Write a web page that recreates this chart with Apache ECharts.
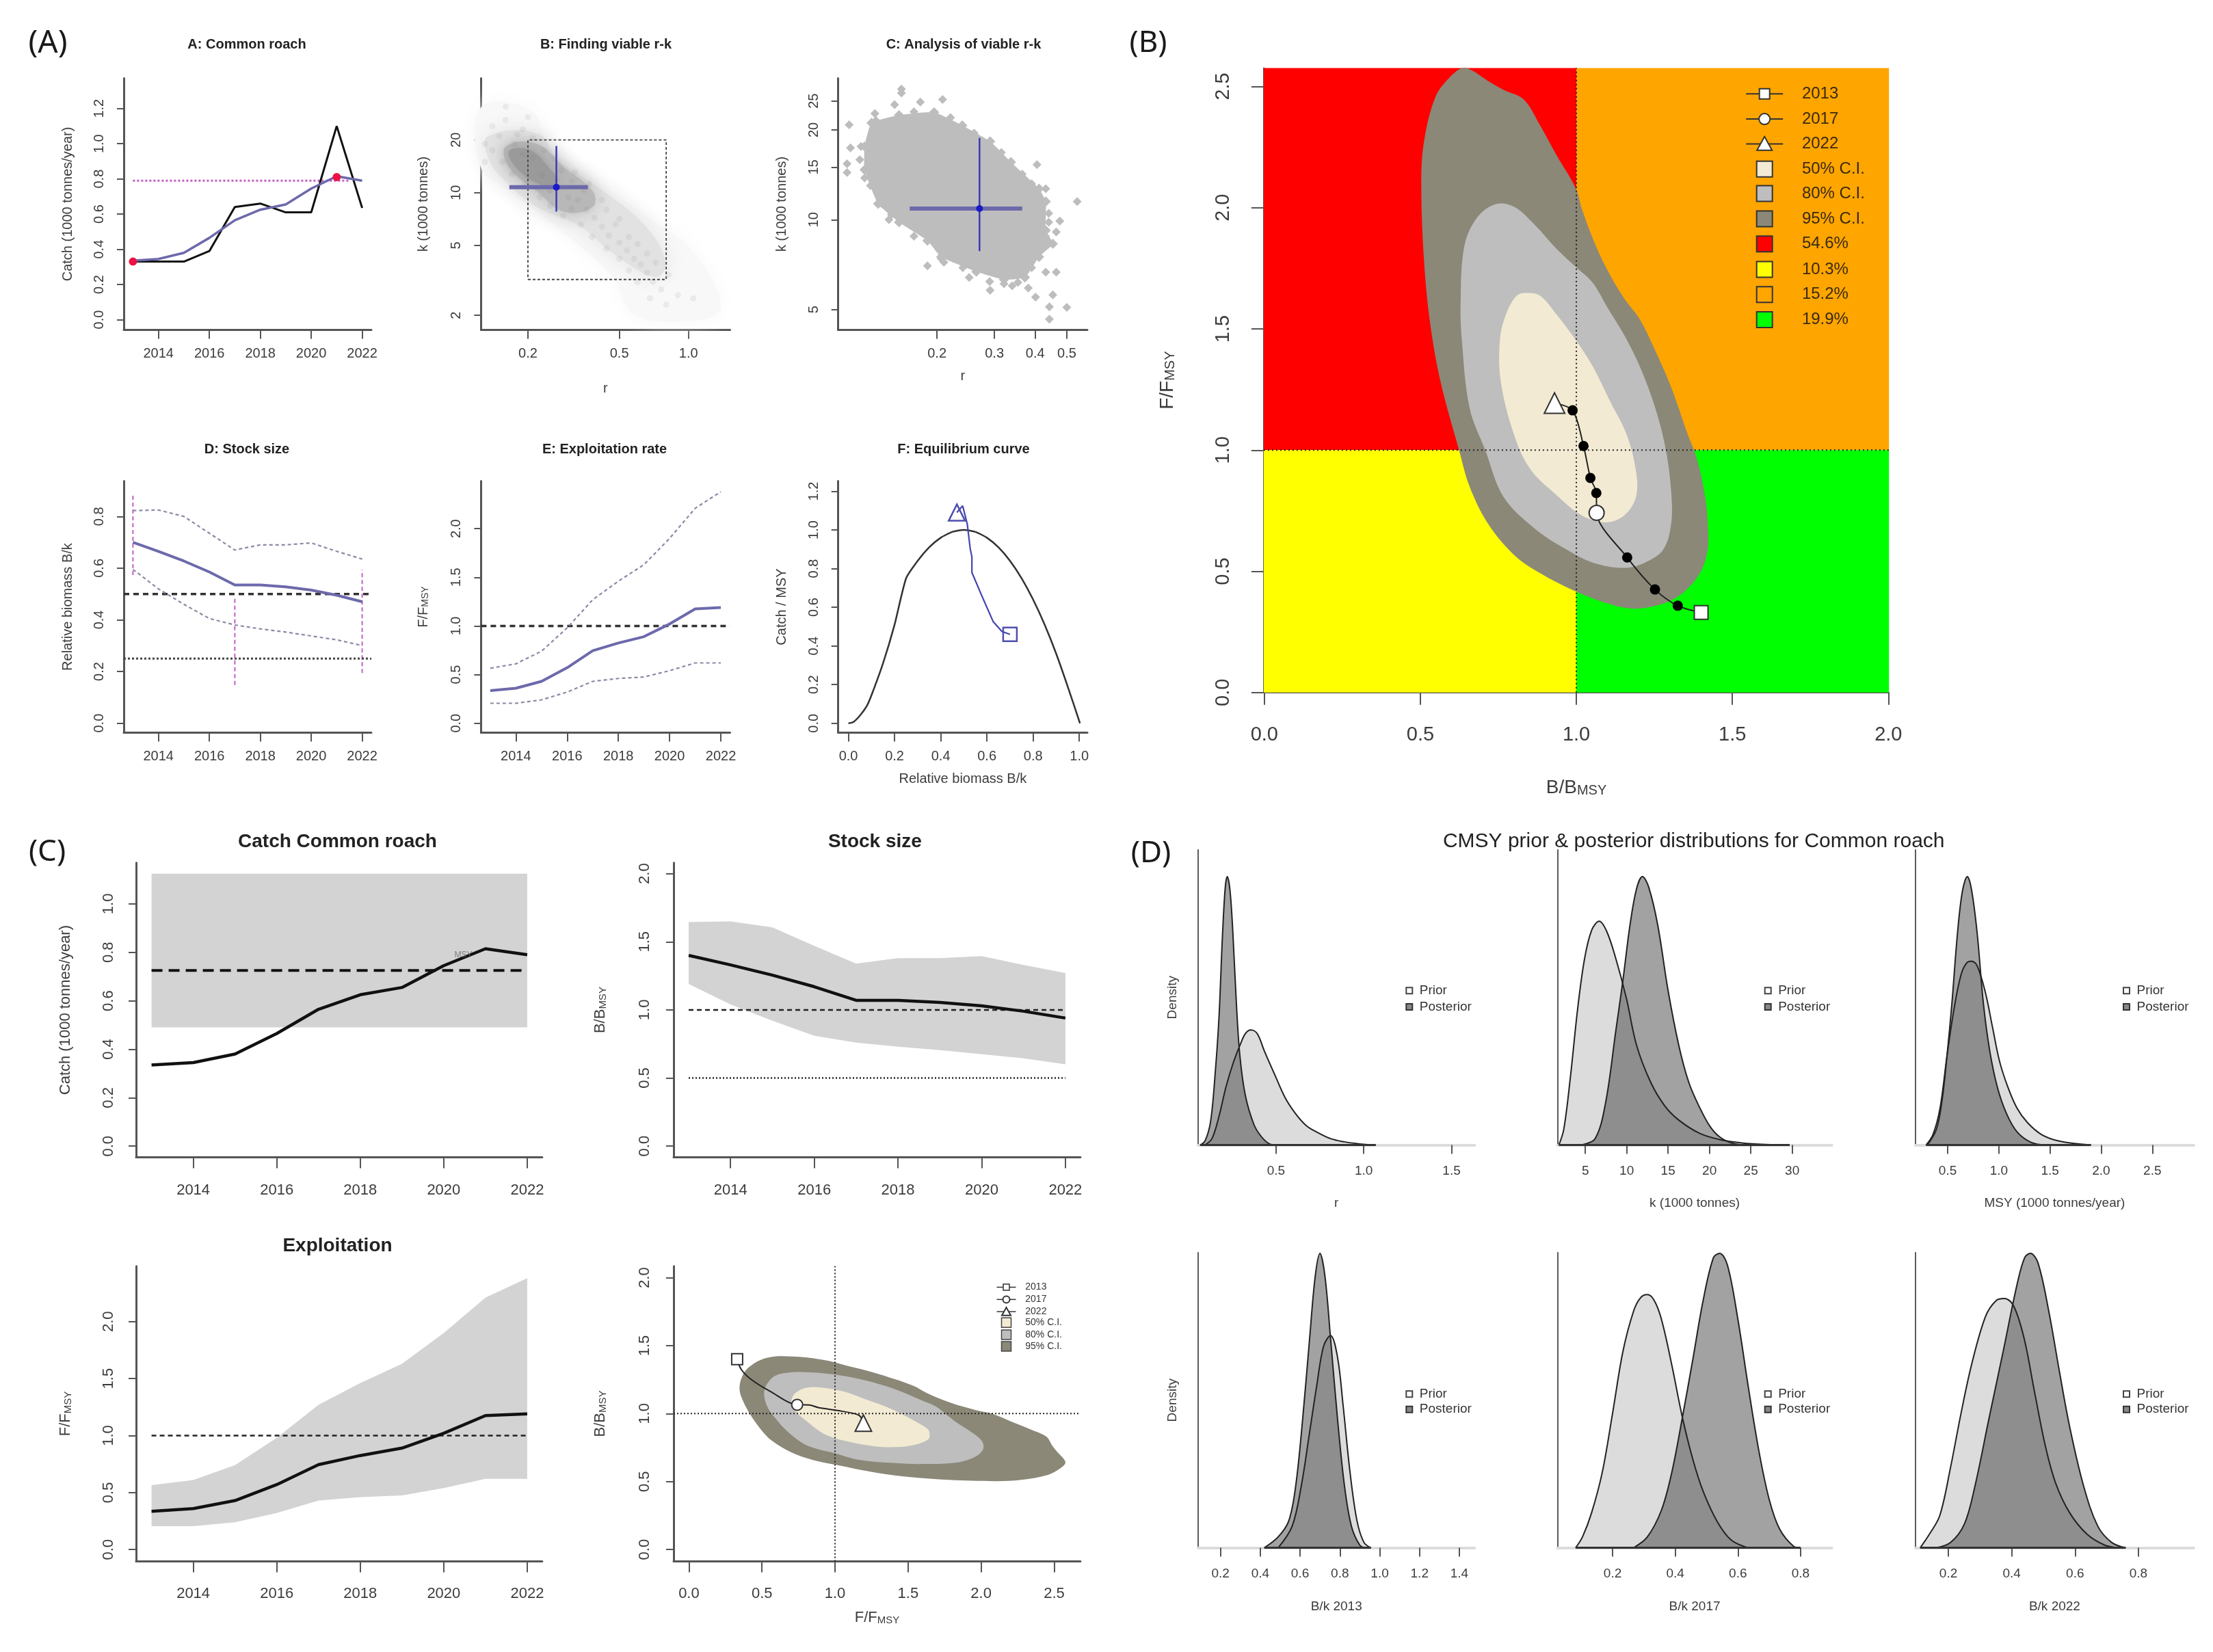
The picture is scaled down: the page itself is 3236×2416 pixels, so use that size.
<!DOCTYPE html>
<html><head><meta charset="utf-8">
<style>html,body{margin:0;padding:0;background:#fff}#c{width:3236px;height:2416px}</style>
<script src="https://cdn.jsdelivr.net/npm/echarts@6/dist/echarts.min.js"></script>
</head><body><div id="c"></div>
<script>
// ---------- data ----------
const years=[2013,2014,2015,2016,2017,2018,2019,2020,2021,2022];
const yearTicks=[2014,2016,2018,2020,2022];
const rawCatch=[.33,.33,.33,.39,.64,.66,.61,.61,1.10,.635];
const smoothCatch=[.335,.345,.38,.465,.565,.625,.655,.745,.815,.79];
const msyLevel=.725, catchPink=.79;
const catchLow=.49, catchHigh=1.125;
const bkMid=[.70,.665,.6275,.585,.535,.535,.5275,.515,.495,.47];
const bkUp=[.8225,.825,.80,.735,.67,.69,.69,.6975,.665,.635];
const bkLo=[.595,.52,.46,.405,.38,.365,.3525,.3375,.3225,.30];
const bbmsyMid=[1.40,1.33,1.255,1.17,1.07,1.07,1.055,1.03,.99,.94];
const bbmsyUp=[1.645,1.65,1.605,1.47,1.34,1.38,1.38,1.395,1.33,1.27];
const bbmsyLo=[1.19,1.04,.92,.81,.76,.73,.705,.675,.645,.60];
const ffmsyMid=[.335,.36,.43,.57,.745,.825,.89,1.02,1.175,1.19];
const ffmsyUp=[.565,.61,.74,.98,1.27,1.46,1.63,1.9,2.21,2.38];
const ffmsyLo=[.205,.205,.24,.32,.43,.46,.475,.54,.62,.62];
const eqX=[0,.02,.05,.08,.1,.15,.2,.25,.3,.35,.4,.45,.5,.55,.6,.65,.7,.75,.8,.85,.9,.95,1.003];
const eqY=[0,.005,.04,.09,.145,.31,.51,.75,.84,.91,.96,.99,1,.99,.96,.91,.84,.75,.64,.51,.36,.19,0];
const eqPathY=[.46,.475,.525,.64,.78,.86,.905,1.03,1.125,1.09];
const pinkVert=[[2013,.573,.888],[2017,.148,.487],[2022,.194,.593]];
const redPts=[[2013,.33],[2021,.81]];
// viable r-k
const boxR=[.2,.8], boxK=[3.2,20];
const crossB={r:.266,k:10.75,rLo:.166,rHi:.365,kLo:7.8,kHi:18.5};
const crossC={r:.27,k:10.9,rLo:.165,rHi:.365,kLo:7.85,kHi:18.8};
const cloudOuter=[[.125,30.7],[.204,29.7],[.252,18.3],[.383,12.1],[.669,7.25],[1.017,4.8],[1.39,2.25],[1.09,1.87],[.58,2.03],[.47,3.29],[.252,6.77],[.166,10.2],[.125,13.9]];
const cloudMid=[[.134,21],[.219,21.8],[.27,15.5],[.41,10.6],[.646,6.5],[.796,4.0],[.717,3.3],[.472,4.5],[.333,6.5],[.219,8.3],[.155,12.1],[.134,16]];
const cloudCore=[[.16,18.3],[.219,19],[.289,13.9],[.383,10.2],[.383,8.3],[.289,7.77],[.219,10.2],[.166,13.9]];
const cloudInner=[[.165,17.2],[.205,17.5],[.25,13.6],[.27,11.6],[.235,11],[.185,13.2]];
const cloudGrain=[[.14,24],[.16,26],[.19,23],[.15,21],[.18,21.5],[.21,20.5],[.14,17.5],[.155,15],[.17,12.8],[.195,11.2],[.225,9.4],[.25,8.4],[.285,7.4],[.31,8.1],[.33,9.1],[.35,10.3],[.31,11.6],[.28,13.4],[.26,15.8],[.235,17.4],[.21,15.8],[.19,16.6],[.175,19],[.23,12.6],[.25,10.3],[.3,9.4],[.36,8],[.39,7.2],[.42,6.4],[.45,5.7],[.5,5.2],[.54,4.7],[.58,4.2],[.62,3.9],[.66,3.5],[.7,3.1],[.76,2.8],[.48,6.6],[.55,5.6],[.6,5.1],[.66,4.5],[.72,4],[.82,3.4],[.38,5.6],[.44,4.8],[.5,4.2],[.55,3.6],[.6,3.1],[.34,6.6],[.44,8],[.5,7.1],[.42,9.1],[.9,2.6],[.8,2.3],[.68,2.5],[1.05,2.5],[.16,31],[.2,27],[.13,19],[.13,15],[.32,13.1],[.37,11.2]];
const viableHull=[[.126,21.1],[.153,22.4],[.196,22.9],[.239,20.7],[.291,18.3],[.337,15.6],[.411,12.7],[.431,11.5],[.431,9.2],[.453,8.3],[.411,7.5],[.372,6.4],[.321,6.3],[.264,6.7],[.206,7.5],[.187,8.5],[.153,9.8],[.132,11.3],[.12,14.7],[.12,17.6]];
const viableEdge=[[.1556,27.4],[.1556,26.6],[.1778,24.8],[.208,25.3],[.1482,24.3],[.129,22.7],[.1076,20.8],[.1086,17.4],[.117,17.6],[.106,15.4],[.106,14.4],[.12,13.8],[.132,12.5],[.1356,11.3],[.1425,10],[.187,7],[.206,7.4],[.251,6.4],[.291,5.8],[.321,6.1],[.354,6.16],[.381,5.9],[.401,5.5],[.453,5.6],[.442,5.1],[.5,5.08],[.442,4.64],[.464,6.67],[.431,6.67],[.464,9.1],[.476,9.9],[.538,11.5],[.405,15.3],[.431,12.7],[.354,7.2],[.14,20],[.135,19],[.125,18.5],[.128,16.5],[.116,15.9],[.13,21.5],[.17,23],[.22,22],[.26,19.5],[.315,16.8],[.365,14.2],[.39,13.2],[.44,10.5],[.44,9.8],[.43,8.8],[.39,6.9],[.34,6],[.29,6.2],[.24,6.9],[.21,7.2],[.17,8.8],[.145,10.4],[.125,13]];
// kobe plot (B/Bmsy, F/Fmsy)
const kobe95=[[.636,2.577],[.666,2.566],[.716,2.523],[.767,2.486],[.831,2.447],[.884,2.339],[.935,2.22],[.998,2.08],[1.018,1.994],[1.052,1.875],[1.094,1.756],[1.153,1.626],[1.203,1.54],[1.253,1.41],[1.304,1.259],[1.354,1.076],[1.388,.957],[1.413,.806],[1.421,.698],[1.421,.59],[1.396,.492],[1.337,.406],[1.27,.363],[1.186,.346],[1.111,.363],[.998,.417],[.884,.492],[.8,.568],[.716,.698],[.658,.849],[.624,1],[.565,1.281],[.532,1.518],[.512,1.778],[.503,2.102],[.512,2.274],[.549,2.458],[.599,2.544]];
const kobe80=[[.742,2.015],[.8,2.004],[.867,1.929],[.935,1.832],[.998,1.756],[1.052,1.691],[1.102,1.583],[1.153,1.475],[1.203,1.346],[1.253,1.173],[1.287,1],[1.304,.827],[1.304,.698],[1.279,.59],[1.22,.536],[1.153,.514],[1.052,.536],[.968,.59],[.867,.676],[.767,.806],[.708,1],[.658,1.173],[.633,1.454],[.629,1.605],[.641,1.842],[.683,1.961]];
const kobe50=[[.842,1.648],[.884,1.637],[.935,1.562],[.998,1.454],[1.052,1.346],[1.111,1.194],[1.161,1.065],[1.191,.914],[1.191,.806],[1.153,.73],[1.094,.702],[1.018,.73],[.935,.816],[.851,.924],[.8,1.065],[.758,1.281],[.755,1.454],[.775,1.562],[.809,1.637]];
const kobePath=[[1.40,.33],[1.325,.358],[1.252,.425],[1.163,.557],[1.065,.741],[1.064,.823],[1.045,.885],[1.023,1.017],[.988,1.164],[.93,1.194]];
const kobeDots=[1,2,3,5,6,7,8];
const kobeLabels=['2013','2017','2022','50% C.I.','80% C.I.','95% C.I.','54.6%','10.3%','15.2%','19.9%'];
const ciCols=['#f2ead2','#bebebe','#8b8878'];
const quadCols=['#ff0000','#ffff00','#ffa500','#00ff00'];
// prior / posterior densities (x, relative height)
const priorR=[[.095,0],[.135,.024],[.175,.107],[.214,.215],[.254,.302],[.294,.371],[.325,.415],[.357,.429],[.393,.415],[.433,.351],[.492,.263],[.552,.176],[.611,.117],[.671,.073],[.73,.049],[.81,.024],[.889,.012],[.968,.005],[1.068,0]];
const postR=[[.067,0],[.095,.015],[.127,.088],[.155,.283],[.175,.478],[.194,.771],[.21,.956],[.222,1],[.238,.946],[.254,.79],[.274,.527],[.294,.332],[.325,.185],[.373,.078],[.413,.034],[.46,.005],[.5,0]];
const priorK=[[1.8,0],[2.4,.059],[3.2,.254],[4.07,.507],[4.9,.693],[5.76,.8],[6.68,.834],[7.6,.795],[8.7,.693],[9.97,.546],[11.2,.371],[12.9,.234],[14.6,.146],[16.3,.093],[18.8,.044],[21.3,.02],[23.9,.008],[26.8,.002],[29.7,0]];
const postK=[[4.5,0],[6.18,.024],[7.44,.156],[8.7,.429],[9.55,.615],[10.4,.82],[11.2,.956],[11.9,1],[12.66,.961],[13.75,.82],[15,.576],[16.3,.371],[17.5,.234],[18.8,.141],[20.1,.068],[21.3,.029],[23,.005],[25.1,0]];
const priorM=[[.288,0],[.356,.039],[.425,.137],[.493,.332],[.562,.507],[.63,.634],[.685,.678],[.733,.685],[.788,.668],[.87,.566],[.938,.439],[1.007,.312],[1.089,.215],[1.178,.137],[1.281,.083],[1.418,.039],[1.589,.015],[1.9,0]];
const postM=[[.301,0],[.39,.059],[.445,.166],[.493,.332],[.541,.527],[.596,.79],[.644,.946],[.692,1],[.733,.951],[.788,.79],[.849,.527],[.911,.351],[.986,.215],[1.075,.117],[1.178,.049],[1.315,.01],[1.452,0]];
const priorB13=[[.49,0],[.56,.073],[.606,.21],[.648,.393],[.683,.548],[.718,.685],[.753,.721],[.788,.648],[.816,.484],[.851,.256],[.886,.091],[.921,.018],[.956,0]];
const postB13=[[.42,0],[.49,.037],[.543,.091],[.578,.21],[.613,.438],[.648,.712],[.676,.922],[.7,1],[.725,.922],[.753,.712],[.788,.438],[.823,.21],[.858,.073],[.9,.009],[.928,0]];
const priorB17=[[.082,0],[.104,.037],[.133,.119],[.167,.256],[.2,.457],[.233,.667],[.267,.804],[.289,.849],[.311,.86],[.333,.84],[.356,.776],[.389,.621],[.422,.447],[.456,.301],[.489,.192],[.533,.091],[.578,.027],[.633,0]];
const postB17=[[.267,0],[.311,.037],[.356,.128],[.389,.256],[.422,.438],[.456,.639],[.489,.84],[.522,.986],[.542,1],[.567,.959],[.6,.776],[.633,.548],[.667,.329],[.7,.164],[.733,.064],[.778,.005],[.8,0]];
const priorB22=[[.111,0],[.14,.046],[.173,.11],[.207,.274],[.24,.457],[.273,.621],[.317,.785],[.351,.84],[.377,.847],[.406,.822],[.439,.712],[.472,.53],[.506,.347],[.539,.219],[.583,.119],[.638,.046],[.694,.009],[.738,0]];
const postB22=[[.162,0],[.207,.018],[.251,.082],[.284,.21],[.328,.438],[.373,.667],[.417,.895],[.441,.986],[.459,1],[.483,.968],[.517,.804],[.55,.603],[.583,.411],[.627,.21],[.672,.073],[.716,.018],[.76,0]];

// ---------- helpers ----------
const SANS='"Liberation Sans",Arial,sans-serif';
const AX='#555', TXT='#3c3c3c', BLUE='#6c69ab', PINK='#c45fc4', CI='#8a8aa6';
const grids=[],xAxes=[],yAxes=[],series=[],titles=[],gfx=[];
function fix(n){return v=>Number(v).toFixed(n)}
function plain(v){return String(v)}
function panel(o){
  const i=grids.length, fs=o.fs||20, lw=o.lw||3;
  grids.push({left:o.l,top:o.t,width:o.r-o.l,height:o.b-o.t,containLabel:false});
  const sub={s:{fontSize:Math.round(fs*.68),fontFamily:SANS,color:TXT,verticalAlign:'bottom',padding:[fs*.3,0,0,0]}};
  xAxes.push({gridIndex:i,type:o.xType||'value',logBase:10,min:o.x[0],max:o.x[1],
    name:o.xName||'',nameLocation:'middle',nameGap:o.xGap||76,
    nameTextStyle:{fontSize:o.nameFs||fs,fontFamily:SANS,color:TXT,rich:sub},
    axisLine:{show:true,onZero:false,lineStyle:{color:o.xLine||AX,width:o.xLw||lw}},
    axisTick:{show:true,inside:false,length:o.xTl||13,customValues:o.xt,lineStyle:{color:AX,width:2}},
    axisLabel:{show:true,customValues:o.xt,formatter:o.xf||plain,margin:o.xm||25,fontSize:fs,fontFamily:SANS,color:TXT,hideOverlap:false,showMinLabel:true,showMaxLabel:true},
    splitLine:{show:false},minorTick:{show:false}});
  yAxes.push({gridIndex:i,type:o.yType||'value',logBase:10,min:o.y[0],max:o.y[1],
    name:o.yName||'',nameLocation:'middle',nameGap:o.yGap||75,nameRotate:90,
    nameTextStyle:{fontSize:o.nameFs||fs,fontFamily:SANS,color:TXT,rich:sub},
    axisLine:{show:true,onZero:false,lineStyle:{color:o.yLine||AX,width:lw}},
    axisTick:{show:!!o.yt,inside:false,length:o.yTl||10,customValues:o.yt||[],lineStyle:{color:AX,width:2}},
    axisLabel:{show:!!o.yt,customValues:o.yt||[],rotate:90,formatter:o.yf||plain,margin:o.ym||26,fontSize:fs,fontFamily:SANS,color:TXT,hideOverlap:false,showMinLabel:true,showMaxLabel:true},
    splitLine:{show:false},minorTick:{show:false}});
  return i;
}
function poly(g,pts,fill,opt){
  opt=opt||{};
  series.push({type:'custom',coordinateSystem:'cartesian2d',xAxisIndex:g,yAxisIndex:g,silent:true,clip:!!opt.clip,
    data:pts,encode:{x:0,y:1},z:opt.z||2,
    renderItem:(p,api)=>{
      if(p.dataIndex!==0)return null;
      const s=pts.map(q=>api.coord(q));
      return {type:'polygon',shape:{points:s,smooth:opt.smooth||0},style:{fill:fill,opacity:opt.op==null?1:opt.op,shadowBlur:opt.blur||0,shadowColor:opt.blur?fill:'transparent'}};
    }});
}
function line(g,pts,col,w,type,opt){
  opt=opt||{};
  series.push({type:'line',xAxisIndex:g,yAxisIndex:g,data:pts,symbol:'none',silent:true,smooth:opt.smooth||false,clip:false,z:opt.z||3,
    lineStyle:{color:col,width:w,type:type||'solid'}});
}
function mark(g,pts,sym,size,fill,stroke,bw,z,opacity){
  series.push({type:'scatter',xAxisIndex:g,yAxisIndex:g,data:pts,symbol:sym,symbolSize:size,silent:true,clip:false,z:z||5,
    itemStyle:{color:fill,borderColor:stroke,borderWidth:bw||0,opacity:opacity==null?1:opacity}});
}
function zipY(y){return years.map((t,i)=>[t,y[i]])}
function band(hi,lo){return years.map((t,i)=>[t,hi[i]]).concat(years.map((t,i)=>[t,lo[i]]).reverse())}
function title(text,x,y,fs,bold,fam,col){
  titles.push({text:text,left:x,top:y,padding:0,textAlign:'center',textVerticalAlign:'middle',
    textStyle:{fontSize:fs,fontWeight:bold?'bold':'normal',fontFamily:fam||SANS,color:col||'#222'}});
}
function gText(text,x,y,fs,col){gfx.push({type:'text',x:x,y:y,silent:true,z:50,style:{text:text,fontSize:fs,fontFamily:SANS,fill:col||'#333',align:'left',verticalAlign:'middle'}})}
function gRect(cx,cy,s,fill,st,lw){gfx.push({type:'rect',silent:true,z:50,shape:{x:cx-s/2,y:cy-s/2,width:s,height:s},style:{fill:fill,stroke:st||'#333',lineWidth:lw||2}})}
function gCirc(cx,cy,r){gfx.push({type:'circle',silent:true,z:50,shape:{cx:cx,cy:cy,r:r},style:{fill:'#fff',stroke:'#333',lineWidth:2}})}
function gTri(cx,cy,s){gfx.push({type:'polygon',silent:true,z:50,shape:{points:[[cx-s/2,cy+s*.42],[cx+s/2,cy+s*.42],[cx,cy-s*.48]]},style:{fill:'#fff',stroke:'#333',lineWidth:2}})}
function gLine(cx,cy,h,w){gfx.push({type:'line',silent:true,z:49,shape:{x1:cx-h,y1:cy,x2:cx+h,y2:cy},style:{stroke:'#333',lineWidth:w||2}})}
const triSym='triangle';

// ---------- (A) six CMSY panels ----------
const yr=[2012.64,2022.36];
title('(A)',70,64,46,false,'"Noto Sans"','#1a1a1a');
title('A: Common roach',361,65.7,20,true);
title('B: Finding viable r-k',886,65.7,20,true);
title('C: Analysis of viable r-k',1409,65.7,20,true);
title('D: Stock size',361,657.7,20,true);
title('E: Exploitation rate',884,657.7,20,true);
title('F: Equilibrium curve',1409,657.7,20,true);

let g=panel({l:181,r:543,t:114.4,b:482.5,x:yr,y:[-.058,1.372],xt:yearTicks,yt:[0,.2,.4,.6,.8,1,1.2],yf:fix(1),yName:'Catch (1000 tonnes/year)',yGap:72,ym:26});
line(g,[[2013,catchPink],[2021.5,catchPink]],PINK,3,'dotted');
line(g,zipY(rawCatch),'#111',3);
line(g,zipY(smoothCatch),BLUE,3.5,'solid',{z:4});
mark(g,redPts,'circle',12,'#ee1144');

g=panel({l:703.4,r:1067.5,t:114.4,b:482.5,xType:'log',yType:'log',x:[.125,1.517],y:[1.65,45],xt:[.2,.5,1],yt:[2,5,10,20],xf:fix(1),xName:'r',yName:'k (1000 tonnes)',yGap:74,ym:26,xGap:76});
poly(g,cloudOuter,'#f8f8f8',{smooth:.4,blur:30});
poly(g,cloudMid,'#e2e2e2',{smooth:.4,blur:30});
poly(g,cloudCore,'#b8b8b8',{smooth:.4,blur:24});
poly(g,cloudInner,'#9a9a9a',{smooth:.4,blur:18});
mark(g,cloudGrain,'circle',9,'#777',null,0,2,.1);
line(g,[[boxR[0],boxK[0]],[boxR[1],boxK[0]],[boxR[1],boxK[1]],[boxR[0],boxK[1]],[boxR[0],boxK[0]]],'#444',1.8,[4,3]);
line(g,[[crossB.rLo,crossB.k],[crossB.rHi,crossB.k]],BLUE,6);
line(g,[[crossB.r,crossB.kLo],[crossB.r,crossB.kHi]],'#3a3ab8',2.5);
mark(g,[[crossB.r,crossB.k]],'circle',10,'#1a1ac8');

g=panel({l:1225.7,r:1590,t:114.4,b:482.5,xType:'log',yType:'log',x:[.0996,.578],y:[4.27,29.8],xt:[.2,.3,.4,.5],yt:[5,10,15,20,25],xf:fix(1),xName:'r',yName:'k (1000 tonnes)',yGap:72,ym:25,xGap:58});
poly(g,viableHull,'#bdbdbd',{smooth:.15});
mark(g,viableHull,'diamond',15,'#bdbdbd');
mark(g,viableEdge,'diamond',13,'#bdbdbd');
line(g,[[crossC.rLo,crossC.k],[crossC.rHi,crossC.k]],BLUE,6);
line(g,[[crossC.r,crossC.kLo],[crossC.r,crossC.kHi]],'#3a3ab8',2.5);
mark(g,[[crossC.r,crossC.k]],'circle',10,'#1a1ac8');

g=panel({l:181,r:543,t:703.5,b:1071.6,x:yr,y:[-.037,.937],xt:yearTicks,yt:[0,.2,.4,.6,.8],yf:fix(1),yName:'Relative biomass B/k',yGap:72,ym:26});
pinkVert.forEach(v=>line(g,[[v[0],v[1]],[v[0],v[2]]],PINK,2,[6,4]));
line(g,[[2012.64,.5],[2022.36,.5]],'#333',3.5,[8,6]);
line(g,[[2012.64,.25],[2022.36,.25]],'#444',3,'dotted');
line(g,zipY(bkUp),CI,2.2,[5,4]);
line(g,zipY(bkLo),CI,2.2,[5,4]);
line(g,zipY(bkMid),BLUE,4);

g=panel({l:703.4,r:1067.5,t:703.5,b:1071.6,x:yr,y:[-.098,2.49],xt:yearTicks,yt:[0,.5,1,1.5,2],yf:fix(1),yName:'F/F{s|MSY}',yGap:74,ym:26});
line(g,[[2012.64,1],[2022.36,1]],'#333',3.5,[8,6]);
line(g,zipY(ffmsyUp),CI,2.2,[5,4]);
line(g,zipY(ffmsyLo),CI,2.2,[5,4]);
line(g,zipY(ffmsyMid),BLUE,4);

g=panel({l:1225.7,r:1590,t:703.5,b:1071.6,x:[-.044,1.035],y:[-.049,1.253],xt:[0,.2,.4,.6,.8,1],yt:[0,.2,.4,.6,.8,1,1.2],xf:fix(1),yf:fix(1),xName:'Relative biomass B/k',yName:'Catch / MSY',yGap:72,ym:25,xGap:58});
line(g,eqX.map((x,i)=>[x,eqY[i]]),'#333',2.5,'solid',{smooth:.2});
line(g,bkMid.map((x,i)=>[x,eqPathY[i]]),'#4444b0',2.2);
mark(g,[[bkMid[0],eqPathY[0]]],'rect',20,'rgba(0,0,0,0)','#4f4fb0',2.5);
mark(g,[[bkMid[9],eqPathY[9]]],triSym,24,'rgba(0,0,0,0)','#4f4fb0',2.5);

// ---------- (B) Kobe plot ----------
title('(B)',1679,63,44,false,'"Noto Sans"','#1a1a1a');
g=panel({l:1847.9,r:2762.2,t:99.5,b:1012.8,x:[-.002,2.002],y:[0,2.576],xt:[0,.5,1,1.5,2],yt:[0,.5,1,1.5,2,2.5],xf:fix(1),yf:fix(1),fs:29,nameFs:28,xName:'B/B{s|MSY}',yName:'F/F{s|MSY}',xGap:125,yGap:126,xm:48,ym:44,xTl:18,yTl:18,lw:2});
const xL=-.002,xR=2.002,yT=2.576;
poly(g,[[xL,1],[1,1],[1,yT],[xL,yT]],quadCols[0],{z:1});
poly(g,[[xL,0],[1,0],[1,1],[xL,1]],quadCols[1],{z:1});
poly(g,[[1,1],[xR,1],[xR,yT],[1,yT]],quadCols[2],{z:1});
poly(g,[[1,0],[xR,0],[xR,1],[1,1]],quadCols[3],{z:1});
poly(g,kobe95,ciCols[2],{smooth:.35});
poly(g,kobe80,ciCols[1],{smooth:.35});
poly(g,kobe50,ciCols[0],{smooth:.35});
line(g,[[xL,1],[xR,1]],'#222',2,[2,4]);
line(g,[[1,0],[1,yT]],'#222',2,[2,4]);
line(g,kobePath,'#222',2,'solid',{smooth:.3,z:4});
mark(g,kobeDots.map(i=>kobePath[i]),'circle',15,'#000');
mark(g,[kobePath[0]],'rect',20,'#fff','#333',2,6);
mark(g,[kobePath[4]],'circle',22,'#fff','#333',2,6);
mark(g,[kobePath[9]],triSym,30,'#fff','#333',2,6);
// legend
(function(){
  const xs=2580.2,xt=2634.9,ys=[137.3,174.1,210.4,247.2,283.1,319.9,356.7,394,430.8,467.6];
  const fills=[null,null,null].concat(ciCols,quadCols);
  kobeLabels.forEach((t,i)=>{
    gText(t,xt,ys[i],24,'#3a2a10');
    if(i<3)gLine(xs,ys[i],27);
    if(i===0)gRect(xs,ys[i],15,'#fff');
    else if(i===1)gCirc(xs,ys[i],8);
    else if(i===2)gTri(xs,ys[i],22);
    else gRect(xs,ys[i],23,fills[i],'#333',2);
  });
})();

// ---------- (C) four panels ----------
title('(C)',69,1246,44,false,'"Noto Sans"','#1a1a1a');
title('Catch Common roach',493.5,1230.8,28,true);
title('Stock size',1279.4,1230.8,28,true);
title('Exploitation',493.5,1821.8,28,true);
const pc={fs:22,xTl:16,yTl:11,xm:37};
g=panel(Object.assign({},pc,{l:199,r:792.9,t:1261.7,b:1692.5,x:[2012.63,2022.36],y:[-.046,1.17],xt:yearTicks,yt:[0,.2,.4,.6,.8,1],yf:fix(1),yName:'Catch (1000 tonnes/year)',yGap:92,ym:29}));
poly(g,band(years.map(()=>catchHigh),years.map(()=>catchLow)),'#d3d3d3');
line(g,[[2013,msyLevel],[2022,msyLevel]],'#111',4,[16,9]);
line(g,zipY(smoothCatch),'#111',4.5);
series.push({type:'scatter',xAxisIndex:g,yAxisIndex:g,data:[[2020.47,.79]],symbol:'circle',symbolSize:2,silent:true,z:6,
  itemStyle:{color:'rgba(0,0,0,0)'},
  label:{show:true,formatter:'MSY',fontSize:12,color:'#666',fontFamily:SANS,position:'inside'}});

g=panel(Object.assign({},pc,{l:985,r:1579.9,t:1261.7,b:1692.5,x:[2012.64,2022.36],y:[-.082,2.08],xt:yearTicks,yt:[0,.5,1,1.5,2],yf:fix(1),yName:'B/B{s|MSY}',yGap:96,ym:31}));
poly(g,band(bbmsyUp,bbmsyLo),'#d3d3d3');
line(g,[[2013,1],[2022,1]],'#222',2.5,[7,5]);
line(g,[[2013,.5],[2022,.5]],'#222',2.5,[2,3]);
line(g,zipY(bbmsyMid),'#111',4.5);

g=panel(Object.assign({},pc,{l:199,r:792.9,t:1851.7,b:2283.4,x:[2012.63,2022.36],y:[-.103,2.486],xt:yearTicks,yt:[0,.5,1,1.5,2],yf:fix(1),yName:'F/F{s|MSY}',yGap:92,ym:29}));
poly(g,band(ffmsyUp,ffmsyLo),'#d3d3d3');
line(g,[[2013,1],[2022,1]],'#222',2.5,[7,5]);
line(g,zipY(ffmsyMid),'#111',4.5);

const swap=a=>a.map(p=>[p[1],p[0]]);
g=panel(Object.assign({},pc,{l:985,r:1579.9,t:1851.7,b:2283.4,x:[-.105,2.68],y:[-.087,2.085],xt:[0,.5,1,1.5,2,2.5],yt:[0,.5,1,1.5,2],xf:fix(1),yf:fix(1),xName:'F/F{s|MSY}',xGap:72,yName:'B/B{s|MSY}',yGap:96,ym:31}));
poly(g,swap(kobe95),ciCols[2],{smooth:.35});
poly(g,swap(kobe80),ciCols[1],{smooth:.35});
poly(g,swap(kobe50),ciCols[0],{smooth:.35});
line(g,[[1,-.087],[1,2.085]],'#222',2,[2,3]);
line(g,[[-.105,1],[2.68,1]],'#222',2,[2,3]);
line(g,swap(kobePath),'#222',2,'solid',{smooth:.3,z:4});
mark(g,[swap(kobePath)[0]],'rect',16,'#fff','#333',2,6);
mark(g,[swap(kobePath)[4]],'circle',16,'#fff','#333',2,6);
mark(g,[swap(kobePath)[9]],triSym,24,'#fff','#333',2,6);
(function(){
  const xs=1471.5,xt=1499.3,ys=[1882.5,1900.4,1918.3,1934.2,1952.1,1969.1];
  kobeLabels.slice(0,6).forEach((t,i)=>{
    gText(t,xt,ys[i],14,'#333');
    if(i<3)gLine(xs,ys[i],14,1.5);
    if(i===0)gRect(xs,ys[i],9,'#fff','#333',1.5);
    else if(i===1)gCirc(xs,ys[i],5);
    else if(i===2)gTri(xs,ys[i],13);
    else gRect(xs,ys[i],14,ciCols[i-3],'#444',1.5);
  });
})();

// ---------- (D) prior / posterior densities ----------
title('(D)',1683,1248,44,false,'"Noto Sans"','#1a1a1a');
title('CMSY prior & posterior distributions for Common roach',2476.7,1230.8,30,false,SANS,'#222');
const pd={fs:19,xm:29,xTl:13,yGap:28,xLine:'#dcdcdc',xLw:4,lw:1.6,yLine:'#333'};
function density(o,prior,post,legY){
  const g=panel(Object.assign({},pd,o));
  [[prior,'#dcdcdc'],[post,'rgba(40,40,40,.43)']].forEach(a=>{
    series.push({type:'line',xAxisIndex:g,yAxisIndex:g,data:a[0],symbol:'none',smooth:.35,silent:true,clip:false,z:3,
      lineStyle:{color:'#222',width:2},areaStyle:{color:a[1],opacity:1,origin:'start'}});
    line(g,[a[0][0],a[0][a[0].length-1]],'#333',3,'solid',{z:4});
  });
  const xs=o.legX;
  gRect(xs,legY[0],9,'#fff','#444',2);
  gRect(xs,legY[1],9,'#888','#333',2);
  gText('Prior',xs+15,legY[0],19,'#333');
  gText('Posterior',xs+15,legY[1],19,'#333');
}
const ly1=[1448.7,1472.6], ly2=[2038.8,2061.2];
density({l:1752,r:2156.4,t:1242.8,b:1674.6,x:[.056,1.632],y:[0,1.1],xt:[.5,1,1.5],xf:fix(1),xName:'r',xGap:76,yName:'Density',legX:2060.8},priorR,postR,ly1);
density({l:2277.4,r:2678.7,t:1242.8,b:1674.6,x:[1.63,34.8],y:[0,1.1],xt:[5,10,15,20,25,30],xName:'k (1000 tonnes)',xGap:76,legX:2585.2},priorK,postK,ly1);
density({l:2800.9,r:3207.9,t:1242.8,b:1674.6,x:[.185,2.905],y:[0,1.1],xt:[.5,1,1.5,2,2.5],xf:fix(1),xName:'MSY (1000 tonnes/year)',xGap:76,legX:3109.5},priorM,postM,ly1);
density({l:1752,r:2156.4,t:1831.8,b:2263.6,x:[.088,1.477],y:[0,1.003],xt:[.2,.4,.6,.8,1,1.2,1.4],xf:fix(1),xName:'B/k 2013',xGap:77,yName:'Density',legX:2060.8},priorB13,postB13,ly2);
density({l:2277.4,r:2678.7,t:1831.8,b:2263.6,x:[.024,.9],y:[0,1.003],xt:[.2,.4,.6,.8],xf:fix(1),xName:'B/k 2017',xGap:77,legX:2585.2},priorB17,postB17,ly2);
density({l:2800.9,r:3207.9,t:1831.8,b:2263.6,x:[.096,.975],y:[0,1.003],xt:[.2,.4,.6,.8],xf:fix(1),xName:'B/k 2022',xGap:77,legX:3109.5},priorB22,postB22,ly2);

const chart=echarts.init(document.getElementById('c'),null,{renderer:'canvas',width:3236,height:2416});
chart.setOption({animation:false,backgroundColor:'#fff',title:titles,grid:grids,xAxis:xAxes,yAxis:yAxes,series:series,graphic:{elements:gfx},tooltip:{show:false},legend:{show:false}});
</script></body></html>
